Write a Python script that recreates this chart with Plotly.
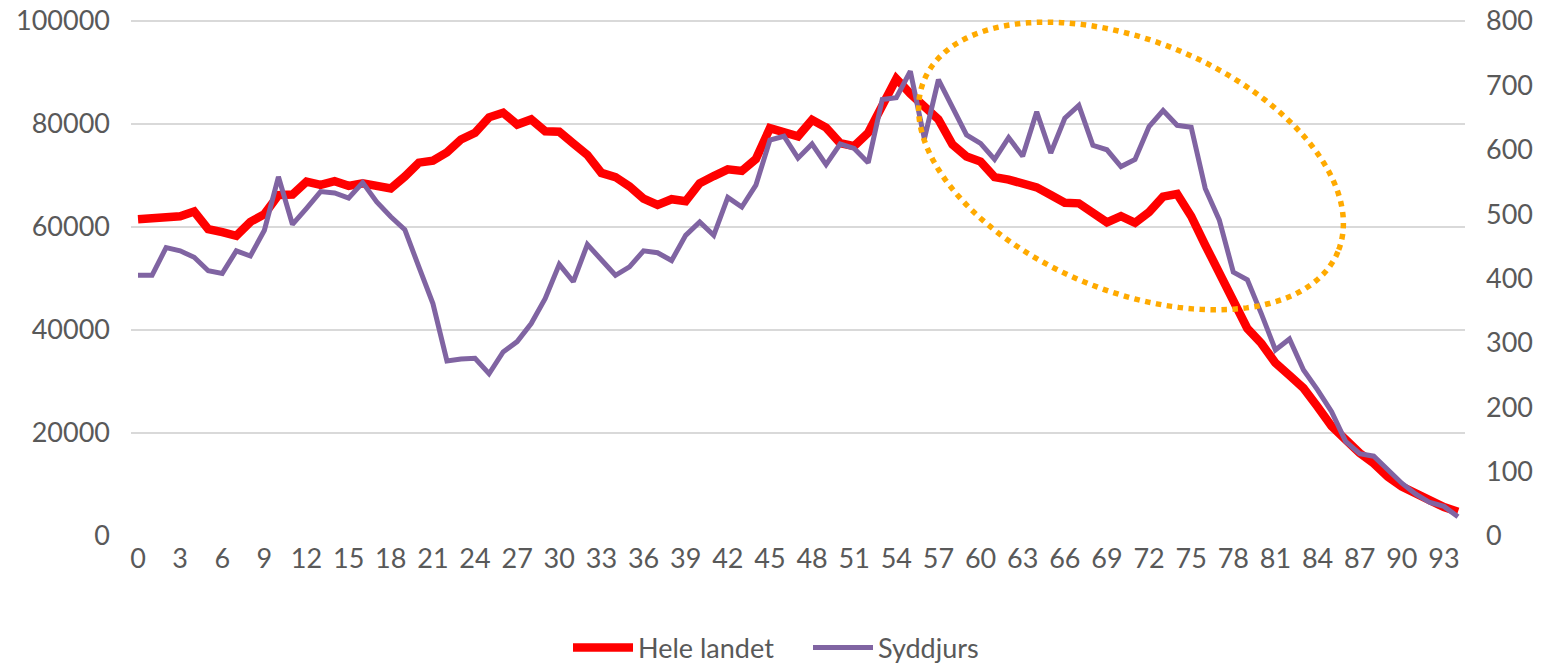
import math
import plotly.graph_objects as go

ages = list(range(0, 95))

hele_landet = [
    61500, 61800, 62100, 62100, 63000, 59600, 59000, 58300, 61000, 62500,
    66200, 66300, 68800, 68200, 68900, 68000, 68500, 68200, 67500, 69800,
    72500, 72900, 74500, 77000, 78300, 81300, 82200, 79900, 80900, 78600,
    78500, 76200, 74000, 70500, 69700, 67900, 65500, 64300, 65400, 65000,
    68500, 69900, 71200, 70900, 73200, 79200, 78300, 77600, 80800, 79300,
    76300, 75700, 78300, 83500, 88800, 85900, 83500, 80900, 76000, 73700,
    72700, 69700, 69200, 68300, 67700, 66200, 64700, 64600, 62800, 60900,
    62100, 60800, 62900, 65900, 66400, 62100, 56500, 51000, 46000, 40300,
    37400, 33600, 31200, 28700, 25100, 21300, 18700, 16100, 14100, 11500,
    9600, 8200, 6900, 5600, 4700,
]

syddjurs = [
    405, 405, 448, 443, 433, 412, 408, 443, 435, 475,
    558, 484, 509, 535, 533, 525, 549, 519, 496, 476,
    418, 361, 272, 275, 276, 252, 286, 302, 330, 369,
    422, 395, 453, 429, 405, 418, 443, 440, 428, 467,
    488, 467, 526, 511, 545, 615, 621, 587, 609, 577,
    609, 602, 580, 678, 681, 722, 617, 709, 667, 623,
    610, 585, 619, 590, 659, 595, 649, 669, 607, 600,
    574, 585, 636, 661, 638, 635, 540, 491, 410, 398,
    345, 289, 306, 258, 227, 193, 147, 128, 124, 102,
    82, 65, 52, 46, 30,
]

x_ticks = list(range(0, 94, 3))
left_ticks = [0, 20000, 40000, 60000, 80000, 100000]
right_ticks = [0, 100, 200, 300, 400, 500, 600, 700, 800]

W, H = 1563, 663
L, R, T, B = 131, 1465, 20, 536
LEFT_MAX, RIGHT_MAX = 100200, 801.6   # tiny headroom so the top gridline shows

FONT = "Lato, 'Liberation Sans', sans-serif"
TXT = "#595959"

fig = go.Figure()
fig.add_trace(go.Scatter(
    x=ages, y=hele_landet, name="Hele landet", mode="lines",
    line=dict(color="#FF0000", width=8.5), yaxis="y",
))
fig.add_trace(go.Scatter(
    x=ages, y=syddjurs, name="Syddjurs", mode="lines",
    line=dict(color="#8064A2", width=5), yaxis="y2",
))

# dotted highlight ellipse (decoration), computed in pixel space -> paper
cx, cy, a, b, phi = 1131, 166, 224, 125, math.radians(22.5)
pts = []
for k in range(0, 181):
    t = 2 * math.pi * k / 180
    px = cx + a * math.cos(t) * math.cos(phi) - b * math.sin(t) * math.sin(phi)
    py = cy + a * math.cos(t) * math.sin(phi) + b * math.sin(t) * math.cos(phi)
    pts.append(((px - L) / (R - L), (B - py) / (B - T)))
path = "M " + " L ".join(f"{u:.5f},{v:.5f}" for u, v in pts) + " Z"
fig.add_shape(type="path", path=path, xref="paper", yref="paper",
              line=dict(color="#FFAA00", width=5.5, dash="dot"))

fig.update_layout(
    width=W, height=H, autosize=False,
    margin=dict(l=L, r=W - R, t=T, b=H - B, pad=0, autoexpand=False),
    paper_bgcolor="white", plot_bgcolor="white",
    font=dict(family=FONT, size=27, color=TXT),
    showlegend=True,
    legend=dict(orientation="h", x=0.5075, xanchor="center",
                yref="container", y=(H - 648) / H, yanchor="middle",
                font=dict(size=27, color=TXT), entrywidth=165,
                itemwidth=60, bgcolor="rgba(0,0,0,0)"),
    xaxis=dict(range=[-0.5, 94.5], tickvals=x_ticks,
               ticktext=[str(v) for v in x_ticks], automargin=False,
               showgrid=False, zeroline=False, showline=False, ticks="",
               ticklabelstandoff=4, tickfont=dict(size=27, color=TXT)),
    yaxis=dict(range=[0, LEFT_MAX], tickvals=left_ticks,
               ticktext=[str(v) for v in left_ticks], automargin=False,
               showgrid=True, gridcolor="#D9D9D9", gridwidth=1.5,
               zeroline=False, showline=False, ticks="",
               ticklabelstandoff=20, tickfont=dict(size=27, color=TXT)),
    yaxis2=dict(range=[0, RIGHT_MAX], tickvals=right_ticks,
                ticktext=[str(v) for v in right_ticks], automargin=False,
                overlaying="y", side="right", showgrid=False,
                zeroline=False, showline=False, ticks="",
                ticklabelstandoff=20, tickfont=dict(size=27, color=TXT)),
)

fig.write_html("out.html", config={"displayModeBar": False},
               post_script="document.body.style.margin='0';")
